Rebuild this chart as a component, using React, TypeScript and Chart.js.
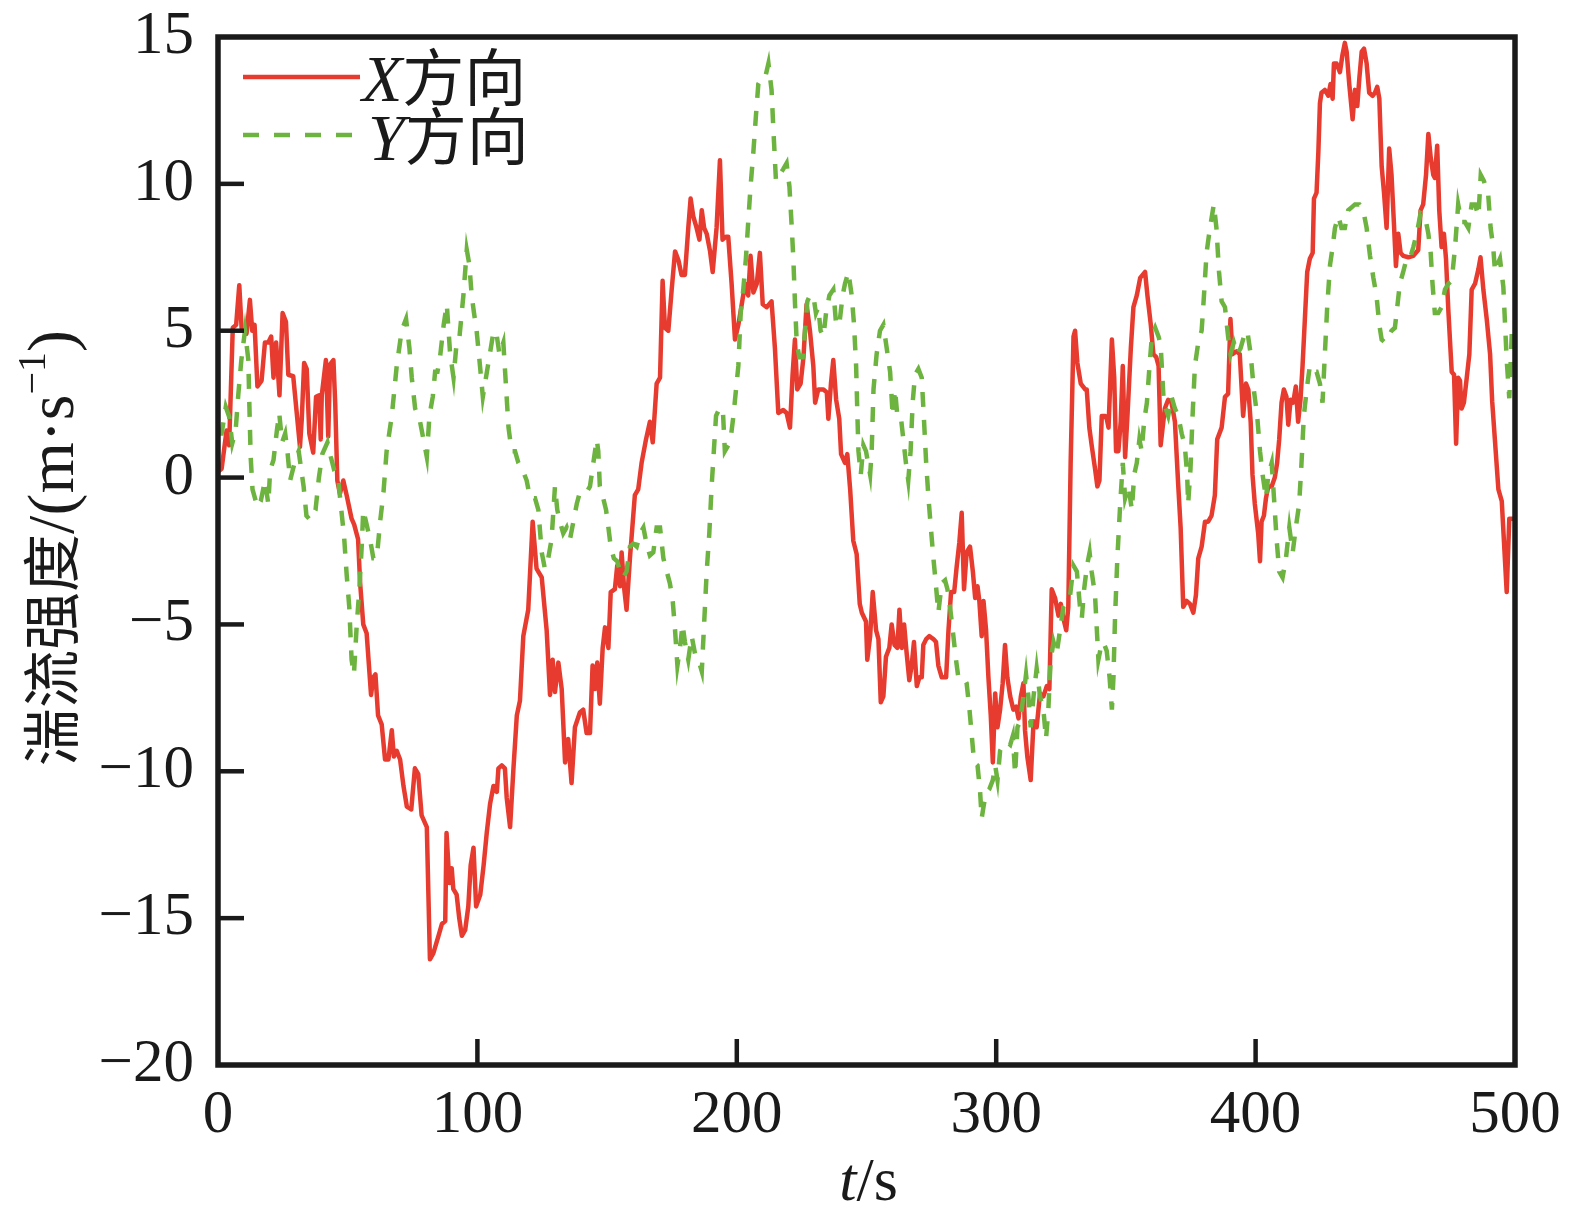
import React, { FC, useEffect, useRef } from "react";
import Chart from "chart.js/auto";

// X方向 (red) time / value
const xDirTime = [
  0, 1.4, 3.3, 4.3, 5.7, 7.0, 8.2, 9.1, 11.0, 12.3, 13.2, 14.1, 15.2, 16.8, 18.1, 19.4, 20.5, 21.4, 22.4, 23.7,
  24.9, 26.2, 27.1, 29.0, 30.3, 31.6, 32.3, 33.2, 34.2, 35.2, 36.7, 37.8, 39.0, 39.6, 40.0, 41.6, 42.5, 43.2, 44.5, 45.2,
  46.0, 47.0, 48.3, 49.6, 51.5, 52.5, 54.0, 54.8, 56.0, 57.3, 59.0, 59.9, 60.7, 61.7, 63.1, 64.4, 65.7, 67.0, 67.8, 68.9,
  70.2, 71.5, 72.8, 74.5, 75.9, 77.2, 78.5, 80.5, 81.7, 83.0, 85.0, 86.3, 87.6, 88.1, 89.2, 90.1, 90.7, 92.0, 93.0, 94.0,
  95.3, 96.5, 97.4, 98.5, 99.5, 101.1, 102.4, 103.6, 104.9, 106.2, 107.5, 108.1, 109.4, 110.6, 111.3, 112.6, 113.9, 115.2, 116.4, 117.7,
  119.6, 121.3, 122.8, 124.8, 126.7, 128.0, 129.0, 129.9, 131.2, 132.5, 133.8, 135.0, 136.3, 137.6, 139.5, 140.8, 142.1, 143.4, 144.4, 145.3,
  146.2, 147.2, 148.3, 149.2, 150.5, 151.4, 153.0, 153.9, 155.0, 155.6, 156.5, 157.5, 158.8, 160.7, 162.0, 163.3, 165.0, 166.5, 167.6, 169.1,
  170.4, 171.4, 172.3, 173.6, 174.9, 176.2, 177.5, 178.7, 180.0, 181.3, 182.2, 183.2, 184.5, 185.6, 186.5, 187.4, 188.4, 189.7, 190.7, 192.2,
  193.5, 194.5, 195.8, 196.7, 198.0, 199.3, 200.6, 201.9, 203.2, 204.4, 205.3, 206.4, 207.7, 208.9, 210.0, 211.5, 213.4, 214.7, 216.0, 217.9,
  219.2, 220.5, 221.5, 222.4, 223.3, 224.6, 225.7, 226.9, 228.2, 229.5, 230.2, 231.4, 233.4, 234.7, 235.3, 236.3, 237.2, 238.3, 239.5, 240.2,
  241.7, 242.6, 243.7, 244.9, 246.2, 247.4, 248.2, 249.8, 250.3, 251.4, 252.4, 253.7, 254.6, 255.5, 256.5, 257.5, 258.8, 259.7, 260.8, 261.9,
  262.7, 263.6, 264.5, 265.5, 266.5, 267.4, 268.3, 269.4, 270.4, 271.3, 271.9, 273.0, 274.2, 275.8, 276.8, 277.7, 279.0, 280.7, 281.6, 282.6,
  283.8, 284.8, 285.8, 286.7, 287.6, 288.6, 289.9, 291.0, 291.9, 292.8, 293.5, 294.4, 295.1, 296.1, 297.0, 297.9, 298.7, 299.6, 300.5, 301.5,
  302.5, 303.4, 304.3, 305.4, 306.6, 307.7, 308.6, 309.5, 310.5, 311.1, 312.0, 313.3, 314.4, 315.6, 316.9, 318.2, 319.5, 320.5, 321.4, 322.7,
  324.0, 324.9, 325.9, 327.0, 327.8, 328.7, 329.8, 330.4, 331.3, 332.6, 334.3, 334.9, 335.9, 336.8, 338.1, 339.0, 339.8, 340.7, 342.0, 342.6,
  343.3, 344.6, 345.5, 346.2, 347.1, 348.0, 348.8, 349.7, 350.6, 351.9, 352.9, 354.2, 355.5, 357.4, 358.3, 359.6, 360.6, 361.7, 362.6, 363.4,
  365.0, 366.3, 367.6, 368.9, 370.2, 371.1, 372.1, 373.4, 374.7, 376.0, 377.0, 377.9, 379.2, 380.5, 381.7, 383.0, 384.3, 385.2, 386.9, 388.2,
  389.4, 390.3, 391.1, 392.7, 393.9, 395.2, 396.3, 397.2, 398.1, 398.8, 399.7, 401.0, 401.7, 402.3, 403.2, 404.0, 404.9, 406.2, 407.4, 408.3,
  409.1, 410.0, 410.9, 411.9, 412.6, 413.5, 414.5, 415.5, 416.4, 417.3, 418.1, 419.0, 419.9, 420.9, 422.0, 422.5, 423.5, 424.2, 424.8, 425.4,
  426.7, 428.0, 428.9, 429.7, 430.2, 431.2, 432.5, 433.5, 434.4, 435.1, 436.1, 437.4, 438.3, 439.2, 440.0, 440.9, 441.8, 442.8, 443.8, 445.1,
  446.0, 446.9, 447.7, 448.6, 449.5, 450.5, 451.5, 452.4, 453.3, 454.1, 455.0, 455.9, 456.9, 458.9, 460.8, 462.7, 463.6, 464.6, 465.7, 466.6,
  467.5, 468.5, 469.1, 470.0, 470.8, 471.7, 472.6, 473.4, 474.3, 475.6, 476.5, 477.3, 478.1, 478.8, 479.4, 480.3, 481.4, 482.4, 483.3, 484.6,
  485.9, 486.7, 487.8, 489.1, 490.4, 491.2, 493.6, 494.9, 496.8, 497.8, 500,
];
const xDirValue = [
  0.2, 0.3, 1.6, 1.1, 5.1, 5.2, 6.55, 5.1, 4.9, 6.05, 5.0, 5.2, 3.1, 3.3, 4.6, 4.6, 4.8, 3.4, 4.6, 2.8,
  5.6, 5.3, 3.5, 3.45, 2.25, 1.05, 2.0, 3.9, 3.7, 1.5, 0.85, 2.75, 2.8, 1.3, 2.8, 4.0, 1.4, 3.85, 4.0, 2.5,
  -0.1, -0.55, -0.1, -0.6, -1.4, -1.6, -2.1, -3.6, -5.0, -5.3, -7.4, -6.8, -6.7, -8.1, -8.4, -9.6, -9.6, -8.6, -9.5, -9.3,
  -9.6, -10.5, -11.2, -11.3, -9.9, -10.1, -11.5, -11.9, -16.4, -16.2, -15.6, -15.2, -15.1, -12.1, -13.8, -13.3, -14.0, -14.2, -15.0, -15.6,
  -15.4, -14.6, -13.2, -12.6, -14.6, -14.2, -13.2, -12.1, -11.1, -10.5, -10.7, -9.9, -9.8, -9.9, -10.9, -11.9, -9.9, -8.1, -7.6, -5.4,
  -4.5, -1.5, -3.1, -3.4, -5.2, -7.4, -6.2, -7.3, -6.3, -7.2, -9.7, -8.9, -10.4, -8.5, -8.0, -7.9, -8.7, -8.7, -6.4, -7.2,
  -6.3, -7.7, -5.8, -5.1, -5.8, -3.9, -3.8, -3.0, -3.7, -2.55, -3.7, -4.5, -2.75, -0.6, -0.4, 0.5, 1.3, 1.9, 1.2, 3.2,
  3.4, 6.7, 5.1, 5.0, 6.4, 7.7, 7.4, 6.9, 6.9, 8.5, 9.5, 8.9, 8.5, 8.1, 9.1, 8.5, 8.3, 7.7, 7.0, 8.5,
  10.8, 8.1, 8.2, 8.2, 6.6, 4.7, 5.2, 5.9, 6.6, 6.2, 7.55, 6.3, 6.6, 7.65, 5.9, 5.8, 6.0, 4.4, 2.2, 2.3,
  2.2, 1.7, 3.5, 4.7, 3.0, 3.2, 4.1, 5.9, 5.0, 3.8, 2.55, 3.0, 3.0, 2.9, 2.0, 3.2, 4.0, 2.65, 2.0, 0.8,
  0.5, 0.8, -0.4, -2.15, -2.6, -4.3, -4.6, -4.9, -6.2, -5.4, -3.9, -5.2, -5.5, -7.65, -7.45, -6.1, -5.8, -5.0, -5.7, -5.8,
  -4.5, -5.8, -5.0, -6.0, -6.9, -6.4, -5.6, -7.1, -6.8, -6.8, -5.7, -5.5, -5.4, -5.5, -5.6, -6.4, -6.8, -6.8, -5.2, -3.9,
  -3.9, -3.0, -2.2, -1.2, -3.8, -2.55, -2.35, -3.2, -4.1, -3.7, -4.2, -5.4, -4.2, -5.2, -6.8, -8.1, -9.7, -7.35, -8.5, -7.9,
  -7.0, -5.7, -6.8, -7.45, -7.9, -7.8, -8.2, -7.45, -7.0, -8.6, -9.5, -10.3, -8.3, -8.5, -7.35, -7.45, -7.1, -7.2, -3.8, -4.1,
  -4.7, -4.3, -4.8, -5.2, -4.4, 0.5, 4.8, 5.0, 3.9, 3.2, 3.0, 3.0, 1.7, 1.1, 0.3, -0.3, -0.1, 2.1, 2.1, 2.0,
  1.7, 4.7, 3.4, 0.9, 0.9, 1.9, 3.8, 0.7, 2.1, 4.4, 5.8, 6.2, 6.8, 7.0, 6.2, 5.2, 4.2, 4.1, 3.8, 1.1,
  2.35, 2.65, 2.55, 1.9, -0.3, -1.7, -4.4, -4.2, -4.3, -4.6, -4.0, -2.75, -2.35, -1.5, -1.5, -1.3, -0.6, 1.3, 1.7, 2.75,
  2.85, 5.4, 4.2, 4.3, 4.2, 2.1, 3.2, 3.0, 1.9, 0.1, -0.9, -1.9, -2.85, -1.5, -1.3, -0.7, -0.3, -0.3, 0.0, 0.5,
  1.3, 2.55, 3.0, 2.75, 1.8, 2.65, 2.55, 3.1, 1.9, 2.65, 3.8, 5.4, 7.0, 7.45, 7.65, 9.5, 9.7, 11.1, 12.75, 13.1,
  13.2, 13.0, 13.4, 12.9, 14.1, 14.1, 13.8, 14.4, 14.8, 14.5, 13.4, 12.2, 13.2, 12.65, 13.6, 14.5, 14.6, 14.1, 13.1, 13.0,
  13.1, 13.3, 12.9, 10.6, 9.7, 8.5, 11.2, 10.3, 8.7, 7.2, 8.3, 7.65, 7.55, 7.5, 7.55, 7.75, 9.1, 9.3, 10.3, 11.7,
  10.9, 10.3, 10.2, 11.3, 9.1, 7.85, 8.3, 7.45, 5.7, 3.6, 3.5, 1.15, 3.4, 3.3, 2.35, 2.55, 3.4, 4.2, 6.4, 6.6,
  7.1, 7.5, 6.4, 5.4, 4.2, 2.6, -0.4, -0.8, -3.9, -1.4, -1.4,
];

// Y方向 (green) time / value
const yDirTime = [
  0, 1.4, 3.0, 4.3, 5.5, 6.8, 7.8, 9.0, 10.4, 11.7, 12.0, 12.6, 13.3, 15.2, 16.5, 18.1, 19.4, 20.1, 21.4, 22.7,
  23.6, 24.7, 25.9, 26.8, 27.8, 29.8, 31.1, 33.0, 34.1, 35.6, 37.6, 38.9, 40.2, 42.2, 43.5, 44.8, 46.3, 47.3, 48.6, 49.6,
  50.6, 51.5, 52.4, 53.5, 54.5, 55.4, 56.0, 57.3, 58.6, 59.9, 61.2, 62.5, 63.8, 65.0, 67.0, 68.9, 70.8, 72.5, 73.8, 74.7,
  76.0, 77.9, 79.2, 80.5, 81.5, 82.8, 83.7, 84.6, 85.6, 87.0, 88.2, 89.5, 90.8, 92.0, 93.1, 94.6, 95.9, 96.9, 97.8, 98.7,
  99.7, 101.0, 102.1, 103.3, 104.6, 105.9, 107.2, 108.5, 110.0, 111.1, 112.0, 113.2, 114.5, 115.8, 117.7, 119.0, 120.3, 122.2, 123.5, 124.8,
  126.0, 127.3, 128.6, 129.9, 130.8, 131.8, 133.1, 134.4, 135.7, 137.0, 138.3, 139.5, 140.8, 142.1, 143.4, 144.7, 146.0, 146.6, 147.2, 148.5,
  149.6, 150.5, 151.4, 152.6, 153.9, 155.0, 156.2, 157.5, 158.8, 160.1, 161.4, 162.7, 164.0, 165.2, 166.5, 167.8, 169.1, 170.4, 171.7, 173.0,
  174.2, 175.3, 176.2, 177.1, 178.1, 179.1, 180.0, 181.3, 182.6, 183.9, 185.2, 186.5, 187.5, 188.4, 189.4, 190.3, 191.0, 192.0, 193.3, 194.6,
  195.4, 196.7, 197.6, 198.7, 199.7, 200.6, 201.5, 202.5, 203.5, 204.4, 205.3, 206.4, 207.4, 208.3, 209.6, 210.9, 212.2, 213.4, 214.3, 215.1,
  216.4, 217.9, 219.2, 220.3, 221.2, 221.8, 222.4, 223.1, 224.1, 225.4, 226.3, 227.2, 228.2, 229.5, 230.5, 231.4, 232.3, 233.4, 234.4, 235.7,
  237.2, 238.3, 239.5, 240.8, 241.7, 243.0, 244.3, 245.2, 246.0, 246.5, 246.9, 247.8, 248.8, 249.8, 251.4, 252.0, 252.7, 253.9, 255.2, 256.5,
  257.8, 259.1, 260.1, 261.0, 261.9, 263.2, 264.2, 265.2, 266.1, 267.0, 267.8, 268.7, 270.0, 271.3, 272.2, 273.0, 273.9, 274.8, 275.8, 276.7,
  277.7, 279.0, 280.3, 281.2, 282.2, 283.5, 284.5, 285.4, 287.4, 288.6, 289.7, 290.6, 291.5, 292.8, 293.8, 294.4, 295.3, 296.4, 297.4, 298.7,
  299.6, 300.5, 301.5, 302.8, 304.1, 305.4, 306.4, 307.3, 308.2, 309.2, 310.5, 311.5, 312.4, 313.3, 314.4, 315.6, 316.9, 318.2, 319.2, 320.1,
  321.0, 322.1, 323.3, 324.6, 325.9, 327.2, 328.5, 329.8, 331.1, 332.3, 333.0, 333.9, 335.0, 336.0, 336.8, 338.1, 339.4, 340.3, 341.3, 342.6,
  343.7, 344.6, 345.2, 345.8, 346.7, 347.8, 348.8, 349.7, 351.0, 352.3, 353.2, 354.2, 355.2, 356.1, 357.0, 358.1, 359.1, 360.0, 361.3, 362.6,
  363.4, 364.6, 366.3, 367.6, 368.9, 370.2, 371.5, 372.7, 373.6, 374.0, 374.9, 375.7, 376.6, 377.9, 379.2, 380.1, 381.1, 382.4, 383.9, 384.9,
  385.9, 386.9, 388.2, 389.4, 390.3, 391.6, 392.9, 394.2, 395.5, 396.8, 398.1, 399.3, 400.6, 401.7, 402.7, 404.0, 404.9, 406.2, 407.1, 408.1,
  409.1, 410.4, 411.7, 413.0, 414.3, 415.5, 416.8, 417.7, 418.6, 419.7, 420.9, 422.2, 423.5, 424.8, 425.8, 426.7, 427.6, 428.7, 429.7, 430.6,
  431.9, 433.1, 434.4, 435.7, 437.0, 438.3, 440.0, 441.5, 442.8, 444.1, 445.4, 446.6, 447.7, 448.6, 449.9, 451.1, 452.4, 453.7, 454.6, 455.6,
  456.9, 458.2, 459.5, 460.8, 462.1, 463.6, 465.3, 466.6, 467.5, 468.2, 469.1, 470.4, 471.7, 473.0, 474.3, 475.6, 476.9, 478.1, 479.4, 480.7,
  482.0, 483.3, 484.6, 485.9, 486.8, 488.0, 489.7, 490.6, 491.6, 492.3, 493.2, 494.2, 495.5, 496.8, 497.8, 498.8, 500,
];
const yDirValue = [
  1.5, 1.5, 2.4, 2.07, 1.17, 1.6, 2.8, 4.0, 5.0, 4.0, 2.8, 0.7, -0.4, -1.0, -0.8, -0.1, -0.9, 0.25, 0.6, 1.6,
  2.2, 1.2, 1.5, 0.86, -0.1, 0.6, 0.9, -0.3, -1.3, -1.45, -1.1, 0.0, 0.8, 1.2, 0.7, 0.25, 0.0, -0.9, -2.0, -3.3,
  -4.4, -6.2, -6.7, -5.0, -3.8, -2.35, -1.1, -1.6, -2.1, -2.75, -2.75, -1.5, -0.5, 0.9, 2.1, 3.8, 5.0, 5.4, 4.4, 3.4,
  2.35, 1.9, 1.3, 0.7, 2.1, 2.75, 3.6, 3.6, 4.1, 5.2, 5.9, 4.2, 3.4, 4.6, 4.8, 6.2, 7.75, 7.25, 6.2, 5.6,
  5.0, 3.8, 2.75, 3.4, 4.1, 4.8, 5.0, 4.2, 4.6, 3.0, 1.7, 0.9, 0.9, 0.5, 0.2, -0.1, -0.7, -0.7, -1.1, -2.55,
  -3.1, -2.75, -2.1, -0.3, -1.1, -1.5, -1.9, -1.7, -2.1, -1.5, -0.9, -0.5, -0.5, -0.5, -0.3, 0.5, 1.3, 0.9, -0.3, -0.7,
  -1.1, -1.7, -2.35, -2.75, -2.85, -3.2, -3.4, -3.2, -2.35, -2.25, -2.35, -1.9, -1.7, -2.25, -2.65, -2.55, -1.7, -1.7, -2.75, -3.2,
  -3.6, -4.2, -5.2, -6.4, -5.8, -5.0, -5.6, -6.2, -5.4, -6.0, -6.2, -6.6, -4.8, -3.2, -1.9, -0.3, 0.7, 2.1, 2.35, 2.35,
  0.9, 1.1, 1.3, 2.1, 3.0, 3.8, 5.6, 6.4, 7.45, 8.7, 9.9, 11.1, 12.35, 13.4, 13.6, 13.6, 14.1, 13.2, 11.5, 10.1,
  10.3, 10.5, 10.7, 9.9, 8.5, 7.45, 6.0, 4.6, 4.1, 4.1, 5.0, 6.0, 6.2, 6.2, 5.6, 5.8, 5.0, 4.8, 5.6, 6.2,
  6.4, 5.2, 5.2, 6.2, 6.6, 7.0, 6.2, 5.2, 3.8, 2.1, 0.9, 0.1, 1.1, 0.9, 0.1, 0.9, 3.0, 4.2, 5.0, 5.2,
  4.4, 3.6, 2.1, 3.0, 2.1, 2.1, 1.3, 0.5, -0.1, 0.9, 2.55, 3.5, 3.7, 3.4, 1.9, 0.5, -0.7, -1.7, -2.75, -3.6,
  -4.6, -3.6, -3.5, -3.8, -4.4, -5.4, -6.2, -6.8, -6.8, -7.0, -7.9, -8.8, -9.7, -9.8, -10.7, -11.6, -11.1, -10.7, -10.6, -10.3,
  -9.8, -10.3, -9.3, -9.1, -9.0, -9.1, -8.8, -10.1, -8.5, -8.3, -7.45, -6.7, -7.45, -8.5, -7.45, -6.5, -7.45, -7.9, -8.9, -7.9,
  -6.2, -5.6, -6.0, -5.2, -4.4, -4.2, -4.0, -3.0, -3.2, -4.4, -4.8, -3.8, -3.0, -2.55, -3.2, -4.0, -6.2, -5.8, -5.6, -5.9,
  -6.8, -7.9, -6.8, -4.8, -2.75, -0.9, 0.5, -0.7, -0.3, -1.1, 0.1, 0.5, 1.3, 0.9, 1.9, 2.55, 3.8, 4.8, 5.1, 4.8,
  4.5, 2.55, 2.1, 2.75, 2.35, 2.1, 1.5, 1.1, 0.1, -0.9, 0.3, 2.1, 3.8, 4.6, 5.0, 6.2, 7.65, 8.5, 9.3, 8.5,
  7.0, 6.0, 5.8, 4.8, 4.2, 4.6, 4.2, 4.4, 4.8, 5.0, 4.2, 3.0, 2.1, 0.9, 0.1, -0.7, 0.1, 0.5, -0.7, -2.1,
  -3.2, -3.4, -2.75, -1.7, -2.55, -1.7, -0.9, 0.5, 2.1, 3.0, 3.8, 3.6, 3.6, 3.2, 2.55, 4.2, 5.8, 7.25, 7.85, 8.5,
  8.9, 8.5, 8.5, 9.1, 9.2, 9.3, 9.3, 9.1, 8.5, 7.55, 6.8, 6.2, 5.2, 4.7, 4.6, 4.8, 5.0, 5.1, 5.8, 6.6,
  7.0, 7.45, 7.45, 7.85, 8.3, 9.0, 8.9, 8.3, 7.65, 6.6, 5.6, 5.6, 5.8, 6.4, 6.6, 6.7, 7.85, 9.3, 8.7, 8.7,
  8.5, 9.3, 9.3, 8.9, 10.3, 10.1, 9.6, 8.5, 7.85, 7.0, 7.25, 7.45, 6.5, 4.0, 2.7, 5.0, 4.6,
];

const xTicks = [0, 100, 200, 300, 400, 500];
const yTicks = [-20, -15, -10, -5, 0, 5, 10, 15];

const RED = "#e63b2e";
const GREEN = "#6db33f";
const INK = "#1a1a1a";
const SERIF = '"Liberation Serif", "Times New Roman", serif';
const CJK = '"Noto Sans CJK SC", "Noto Sans CJK JP", sans-serif';

// frame, inward ticks, legend and axis titles
const framePlugin = {
  id: "frame",
  afterDraw(chart: any) {
    const { ctx, chartArea, scales } = chart;
    const { left, right, top, bottom } = chartArea;
    ctx.save();
    ctx.strokeStyle = INK;
    ctx.lineWidth = 4.5;
    ctx.lineCap = "butt";
    xTicks.slice(1, -1).forEach((t) => {
      const px = scales.x.getPixelForValue(t);
      ctx.beginPath();
      ctx.moveTo(px, bottom);
      ctx.lineTo(px, bottom - 26);
      ctx.stroke();
    });
    yTicks.slice(1, -1).forEach((v) => {
      const py = scales.y.getPixelForValue(v);
      ctx.beginPath();
      ctx.moveTo(left, py);
      ctx.lineTo(left + 26, py);
      ctx.stroke();
    });
    ctx.lineWidth = 5.5;
    ctx.strokeRect(left, top, right - left, bottom - top);

    // legend
    ctx.lineWidth = 4.5;
    ctx.strokeStyle = RED;
    ctx.beginPath();
    ctx.moveTo(243, 77);
    ctx.lineTo(360, 77);
    ctx.stroke();
    ctx.strokeStyle = GREEN;
    ctx.setLineDash([16, 15]);
    ctx.beginPath();
    ctx.moveTo(243, 135);
    ctx.lineTo(360, 135);
    ctx.stroke();
    ctx.setLineDash([]);

    ctx.fillStyle = INK;
    ctx.textBaseline = "alphabetic";
    ctx.textAlign = "left";
    const legendRow = (letter: string, x: number, y: number) => {
      ctx.font = `italic 66px ${SERIF}`;
      ctx.fillText(letter, x, y);
      const w = ctx.measureText(letter).width;
      ctx.font = `62px ${CJK}`;
      ctx.fillText("方向", x + w, y);
    };
    legendRow("X", 362, 101);
    legendRow("Y", 368, 160);

    // x title: t/s
    ctx.font = `italic 62px ${SERIF}`;
    const tW = ctx.measureText("t").width;
    ctx.font = `62px ${SERIF}`;
    const restW = ctx.measureText("/s").width;
    const cx = (left + right) / 2 + 2;
    const x0 = cx - (tW + restW) / 2;
    ctx.font = `italic 62px ${SERIF}`;
    ctx.fillText("t", x0, 1200);
    ctx.font = `62px ${SERIF}`;
    ctx.fillText("/s", x0 + tW, 1200);

    // y title: 湍流强度/(m·s⁻¹)
    ctx.translate(73, 548);
    ctx.rotate(-Math.PI / 2);
    const parts = [
      { s: "湍流强度", f: `58px ${CJK}`, dy: 0 },
      { s: "/(m·s", f: `66px ${SERIF}`, dy: 0 },
      { s: "−1", f: `40px ${SERIF}`, dy: -28 },
      { s: ")", f: `66px ${SERIF}`, dy: 0 },
    ];
    let total = 0;
    parts.forEach((p) => {
      ctx.font = p.f;
      total += ctx.measureText(p.s).width;
    });
    let px = -total / 2;
    parts.forEach((p) => {
      ctx.font = p.f;
      ctx.fillText(p.s, px, p.dy);
      px += ctx.measureText(p.s).width;
    });
    ctx.restore();
  },
};

const App: FC = () => {
  const canvasRef = useRef<HTMLCanvasElement>(null);

  useEffect(() => {
    if (!canvasRef.current) return;
    const ctx = canvasRef.current.getContext("2d");
    if (!ctx) return;

    const chart = new Chart(ctx, {
      type: "line",
      data: {
        datasets: [
          {
            label: "X方向",
            data: xDirTime.map((t, i) => ({ x: t, y: xDirValue[i] })),
            borderColor: RED,
            borderWidth: 4.5,
            pointRadius: 0,
            tension: 0,
            borderJoinStyle: "round",
            order: 2,
          },
          {
            label: "Y方向",
            data: yDirTime.map((t, i) => ({ x: t, y: yDirValue[i] })),
            borderColor: GREEN,
            borderWidth: 4.5,
            borderDash: [15, 13],
            pointRadius: 0,
            tension: 0,
            order: 1,
          },
        ],
      },
      options: {
        animation: false,
        responsive: false,
        devicePixelRatio: 1,
        layout: { padding: { left: 0, top: 37, right: 73, bottom: 0 } },
        plugins: {
          legend: { display: false },
          tooltip: { enabled: false },
        },
        scales: {
          x: {
            type: "linear",
            min: 0,
            max: 500,
            afterFit: (scale: any) => {
              scale.height = 157;
            },
            afterBuildTicks: (scale: any) => {
              scale.ticks = xTicks.map((v) => ({ value: v }));
            },
            grid: { display: false, drawTicks: false },
            border: { display: false },
            ticks: {
              font: { family: SERIF, size: 61 },
              color: INK,
              padding: 14,
              maxRotation: 0,
            },
          },
          y: {
            min: -20,
            max: 15,
            afterFit: (scale: any) => {
              scale.width = 218;
            },
            afterBuildTicks: (scale: any) => {
              scale.ticks = yTicks.map((v) => ({ value: v }));
            },
            grid: { display: false, drawTicks: false },
            border: { display: false },
            ticks: {
              font: { family: SERIF, size: 61, lineHeight: 0.4 },
              color: INK,
              padding: 24,
              callback: (v: any) => (Number(v) < 0 ? "\u2212" + Math.abs(Number(v)) : String(v)),
            },
          },
        },
      },
      plugins: [framePlugin],
    });

    return () => {
      chart.destroy();
    };
  }, []);

  return (
    <div style={{ position: "absolute", left: 0, top: 0, width: 1588, height: 1222, background: "#fff" }}>
      <canvas ref={canvasRef} width={1588} height={1222} style={{ width: 1588, height: 1222 }} />
    </div>
  );
};

export default App;
